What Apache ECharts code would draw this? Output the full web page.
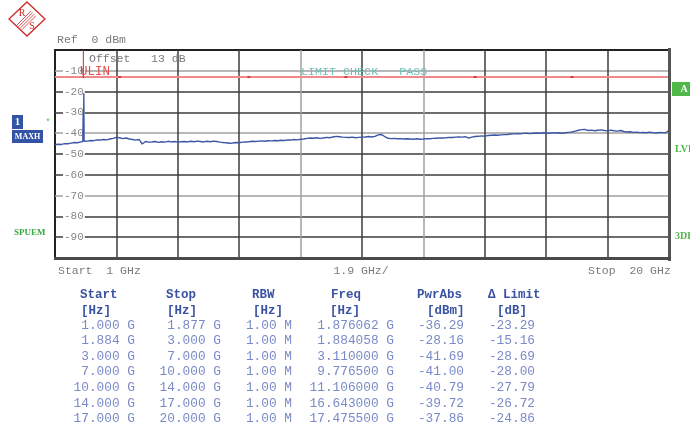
<!DOCTYPE html>
<html><head><meta charset="utf-8">
<script src="https://cdn.jsdelivr.net/npm/echarts@6/dist/echarts.min.js"></script>
<style>html,body{margin:0;padding:0;background:#fff}#c{width:690px;height:430px}</style>
</head><body><div id="c"></div>
<script>
// ---- sweep / axis settings ----
const startGHz = 1;
const stopGHz = 20;
const spanPerDivGHz = 1.9;
const refLevel = 0;
const bottomLevel = -100;
const dbPerDiv = 10;
const limitLevel = -13;

// ---- trace (MAXH), one reading every 0.1 GHz from 1.0 to 20.0 GHz ----
const traceStepGHz = 0.1;
const traceLevels = [
  -45.5,-45.3,-45.4,-45.0,-45.1,-44.8,-44.5,-44.6,-44.2,-43.9,
  -43.8,-43.5,-43.6,-43.2,-43.3,-43.0,-43.2,-42.8,-42.5,-42.0,
  -42.2,-42.6,-42.3,-42.8,-43.0,-43.3,-43.0,-45.2,-44.0,-44.3,
  -44.2,-44.0,-44.4,-44.1,-44.3,-43.9,-44.2,-44.0,-44.3,-44.1,
  -44.0,-44.2,-43.9,-44.1,-43.8,-44.0,-44.2,-43.9,-44.1,-43.8,
  -44.0,-44.3,-44.5,-44.6,-44.8,-44.7,-44.5,-44.6,-44.3,-44.2,
  -44.1,-43.9,-44.0,-43.8,-43.7,-43.9,-43.6,-43.7,-43.5,-43.6,
  -43.4,-43.5,-43.2,-43.3,-43.0,-43.2,-42.9,-42.8,-42.5,-42.3,
  -42.4,-42.2,-42.5,-42.3,-42.0,-42.2,-41.8,-41.5,-41.7,-41.9,
  -42.0,-42.1,-41.9,-42.2,-42.0,-41.9,-41.8,-41.6,-41.8,-41.5,
  -40.8,-40.6,-41.6,-42.4,-42.6,-42.5,-42.7,-42.6,-42.8,-42.7,
  -42.8,-42.9,-42.7,-42.9,-42.8,-42.6,-42.7,-42.5,-42.4,-42.3,
  -42.3,-42.2,-42.0,-42.1,-41.9,-41.8,-41.9,-41.7,-42.4,-41.9,
  -41.6,-41.5,-41.3,-41.4,-41.1,-41.0,-40.9,-41.0,-40.8,-40.7,
  -40.6,-40.4,-40.3,-40.2,-40.3,-40.1,-40.0,-40.2,-40.0,-39.9,
  -40.0,-39.8,-39.9,-40.0,-39.7,-39.9,-39.8,-40.0,-39.8,-39.6,
  -39.4,-39.0,-38.6,-38.3,-38.2,-38.7,-38.5,-38.8,-38.6,-38.4,
  -38.7,-38.9,-38.5,-38.8,-39.0,-38.7,-39.2,-39.4,-39.3,-39.6,
  -39.5,-39.7,-39.6,-39.8,-39.5,-39.7,-39.9,-39.6,-39.7,-39.8,
  -38.6
];
// spurious spike near 1.88 GHz
const spikeFreqs = [1.862, 1.872, 1.882, 1.892];
const spikeLevels = [-44.0, -30.5, -43.8, -20.8];

// ---- result table ----
const segStart = [1.000, 1.884, 3.000, 7.000, 10.000, 14.000, 17.000];
const segStop  = [1.877, 3.000, 7.000, 10.000, 14.000, 17.000, 20.000];
const segRbwMHz = [1.00, 1.00, 1.00, 1.00, 1.00, 1.00, 1.00];
const peakFreq = [1.876062, 1.884058, 3.110000, 9.776500, 11.106000, 16.643000, 17.475500];
const peakPwr  = [-36.29, -28.16, -41.69, -41.00, -40.79, -39.72, -37.86];
const deltaLimit = [-23.29, -15.16, -28.69, -28.00, -27.79, -26.72, -24.86];
const tableHeaders = ['Start', 'Stop', 'RBW', 'Freq', 'PwrAbs', '\u0394 Limit'];
const tableUnits = ['[Hz]', '[Hz]', '[Hz]', '[Hz]', '[dBm]', '[dB]'];

// ---- build series data ----
const pts = [];
traceLevels.forEach((v, i) => pts.push([+(startGHz + i * traceStepGHz).toFixed(3), v]));
spikeFreqs.forEach((f, i) => pts.push([f, spikeLevels[i]]));
pts.sort((a, b) => a[0] - b[0]);
const traceData = pts.map(p => [p[0] - startGHz, p[1]]);
const span = stopGHz - startGHz;
const limitData = [[0, limitLevel], [span, limitLevel]];
const markerLine = [[segStop[0] - startGHz, refLevel], [segStop[0] - startGHz, limitLevel - 0.5]];
const boundaryTicks = segStart.slice(2).map(f => [f - startGHz, limitLevel]);

const D = '#3c3c3c', G = '#a0a0a0';
const mono = '"Liberation Mono", "DejaVu Sans Mono", monospace';
const serif = '"Liberation Serif", "DejaVu Serif", serif';

function txt(x, y, s, o) {
  o = o || {};
  return {
    type: 'text', x: x, y: y, z: 100, silent: true,
    style: {
      text: s,
      fill: o.fill || '#7a7a7a',
      font: (o.weight || 'normal') + ' ' + (o.size || 11.5) + 'px ' + (o.family || mono),
      align: o.align || 'left', textAlign: o.align || 'left',
      verticalAlign: 'middle', textVerticalAlign: 'middle'
    }
  };
}

const graphics = [];
// R&S logo
graphics.push({type: 'polygon', z: 100, shape: {points: [[27, 2], [45, 19], [27, 36], [9, 19]]},
  style: {stroke: '#cc2a2a', fill: 'transparent', lineWidth: 1.3}});
[[0, 0], [1.6, 1.6], [3.2, 3.2], [4.8, 4.8]].forEach(d => graphics.push({type: 'line', z: 100,
  shape: {x1: 17 + d[0], y1: 25 + d[1], x2: 31 + d[0], y2: 11 + d[1]}, style: {stroke: '#cc2a2a', lineWidth: 0.8}}));
graphics.push(txt(22, 13, 'R', {fill: '#cc2a2a', size: 10, family: serif, align: 'center'}));
graphics.push(txt(32, 26, 'S', {fill: '#cc2a2a', size: 10, family: serif, align: 'center'}));

graphics.push(txt(57, 40, 'Ref  0 dBm'));
graphics.push(txt(89, 59, 'Offset   13 dB'));
graphics.push(txt(80, 72, 'ULIN', {fill: '#e05050', size: 12.5}));
graphics.push(txt(301, 72, 'LIMIT CHECK   PASS', {fill: '#6cc0b8', size: 11.7}));

// left annotations
graphics.push({type: 'rect', z: 100, shape: {x: 12, y: 115, width: 11, height: 14}, style: {fill: '#3354a4'}});
graphics.push(txt(17.5, 122.5, '1', {fill: '#fff', size: 11, weight: 'bold', family: serif, align: 'center'}));
graphics.push({type: 'rect', z: 100, shape: {x: 12, y: 130, width: 31, height: 13}, style: {fill: '#3354a4'}});
graphics.push(txt(27.5, 137, 'MAXH', {fill: '#fff', size: 8, weight: 'bold', family: serif, align: 'center'}));
graphics.push(txt(48, 123, '*', {fill: '#50c050', size: 9, align: 'center'}));
graphics.push(txt(14, 233, 'SPUEM', {fill: '#3aa840', size: 9, weight: 'bold', family: serif}));

// frame thickening (right and bottom edges)
graphics.push({type: 'rect', z: 100, shape: {x: 668, y: 48, width: 3, height: 213}, style: {fill: '#555'}});
graphics.push({type: 'rect', z: 100, shape: {x: 54, y: 257, width: 617, height: 3}, style: {fill: '#4a4a4a'}});
// right annotations
graphics.push({type: 'rect', z: 100, shape: {x: 672, y: 82, width: 18, height: 14}, style: {fill: '#50b848'}});
graphics.push(txt(684, 89, 'A', {fill: '#fff', size: 10, weight: 'bold', family: serif, align: 'center'}));
graphics.push(txt(675, 149, 'LVL', {fill: '#50b848', size: 10, weight: 'bold', family: serif}));
graphics.push(txt(675, 236, '3DB', {fill: '#50b848', size: 10, weight: 'bold', family: serif}));

// x-axis annotations
graphics.push(txt(58, 271, 'Start  1 GHz'));
graphics.push(txt(361, 271, spanPerDivGHz + ' GHz/', {align: 'center'}));
graphics.push(txt(588, 271, 'Stop  20 GHz'));

// table
const hdrLeft = [80, 166, 252, 331, 417, 488];
const unitLeft = [81, 167, 253, 330, 427, 497];
const colRight = [135, 221, 292, 394, 464, 535];
const rowY = [326, 341, 357, 372, 388, 404, 419];
const hdrColor = '#3a52a2', valColor = '#7a8ac8';
tableHeaders.forEach((h, i) => graphics.push(txt(hdrLeft[i], 295, h, {fill: hdrColor, weight: 'bold', size: 12.5})));
tableUnits.forEach((h, i) => graphics.push(txt(unitLeft[i], 311, h, {fill: hdrColor, weight: 'bold', size: 12.5})));
rowY.forEach((y, r) => {
  const cells = [
    segStart[r].toFixed(3) + ' G',
    segStop[r].toFixed(3) + ' G',
    segRbwMHz[r].toFixed(2) + ' M',
    peakFreq[r].toFixed(6) + ' G',
    peakPwr[r].toFixed(2),
    deltaLimit[r].toFixed(2)
  ];
  cells.forEach((c, i) => graphics.push(txt(colRight[i], y, c, {fill: valColor, size: 12.8, align: 'right'})));
});

const chart = echarts.init(document.getElementById('c'), null, {renderer: 'canvas'});
chart.setOption({
  animation: false,
  backgroundColor: '#fff',
  grid: {left: 55, right: 21, top: 50, bottom: 172, show: true, borderColor: '#222', borderWidth: 2, backgroundColor: '#fff'},
  xAxis: {
    type: 'value', min: 0, max: span, interval: spanPerDivGHz,
    axisLine: {show: false}, axisTick: {show: false}, axisLabel: {show: false},
    splitLine: {show: true, showMinLine: false, showMaxLine: false,
      lineStyle: {width: 1.5, color: [D, D, D, G, D, G, D, D, D]}}
  },
  yAxis: {
    type: 'value', min: bottomLevel, max: refLevel, interval: dbPerDiv,
    axisLine: {show: false}, axisTick: {show: false},
    axisLabel: {
      inside: true, margin: 8, color: '#888', fontSize: 11, fontFamily: mono,
      backgroundColor: '#fff', padding: [0, 1],
      formatter: v => (v === refLevel || v === bottomLevel) ? '' : String(v)
    },
    splitLine: {show: true, showMinLine: false, showMaxLine: false,
      lineStyle: {width: 1.5, color: [D, D, G, D, D, G, D, D, G]}}
  },
  series: [
    {type: 'line', data: limitData, showSymbol: false, silent: true, z: 3,
      lineStyle: {color: '#f08a8a', width: 2}},
    {type: 'line', data: markerLine, showSymbol: false, silent: true, z: 4,
      lineStyle: {color: '#d42424', width: 1}},
    {type: 'scatter', data: boundaryTicks, symbol: 'rect', symbolSize: [3, 2], silent: true, z: 4,
      itemStyle: {color: '#d42424'}},
    {type: 'line', data: traceData, showSymbol: false, silent: true, z: 5,
      lineStyle: {color: '#3c56a6', width: 1.4}}
  ],
  graphic: graphics
});
</script>
</body></html>
